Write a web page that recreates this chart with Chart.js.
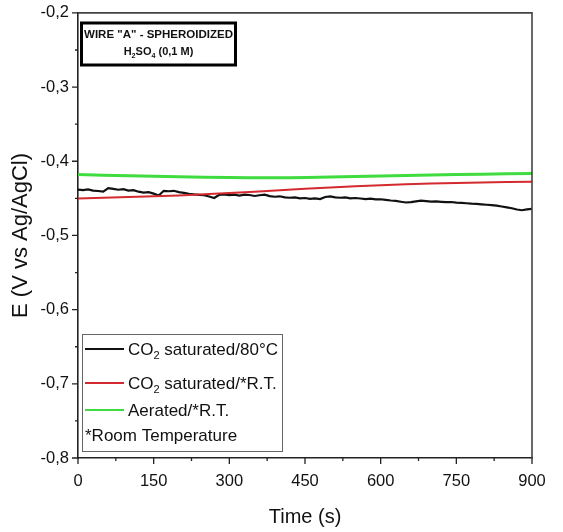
<!DOCTYPE html>
<html>
<head>
<meta charset="utf-8">
<script src="https://cdn.jsdelivr.net/npm/chart.js@4.4.0/dist/chart.umd.min.js"></script>
<style>
  html, body { margin: 0; padding: 0; background: #fff; }
  #wrap { width: 563px; height: 532px; }
</style>
</head>
<body>
<div id="wrap"><canvas id="chart" width="563" height="532"></canvas></div>
<script>
// black trace: CO2 saturated / 80 C
const timeBlack = [0,10,20,30,40,50,60,70,80,90,100,110,120,130,140,150,160,170,180,190,200,210,220,230,240,250,260,270,280,290,300,310,320,330,340,350,360,370,380,390,400,410,420,430,440,450,460,470,480,490,500,510,520,530,540,550,560,570,580,590,600,610,620,630,640,650,660,670,680,690,700,710,720,730,740,750,760,770,780,790,800,810,820,830,840,850,860,870,880,890,900];
const eBlack = [-0.4381,-0.4390,-0.4379,-0.4395,-0.4401,-0.4410,-0.4362,-0.4372,-0.4384,-0.4377,-0.4396,-0.4390,-0.4410,-0.4422,-0.4416,-0.4436,-0.4462,-0.4398,-0.4404,-0.4398,-0.4415,-0.4426,-0.4438,-0.4446,-0.4452,-0.4458,-0.4475,-0.4495,-0.4452,-0.4446,-0.4457,-0.4450,-0.4462,-0.4449,-0.4455,-0.4468,-0.4458,-0.4450,-0.4470,-0.4478,-0.4472,-0.4486,-0.4492,-0.4487,-0.4500,-0.4495,-0.4506,-0.4500,-0.4510,-0.4482,-0.4473,-0.4486,-0.4492,-0.4488,-0.4499,-0.4495,-0.4502,-0.4510,-0.4504,-0.4514,-0.4512,-0.4521,-0.4529,-0.4535,-0.4546,-0.4556,-0.4550,-0.4540,-0.4531,-0.4538,-0.4545,-0.4541,-0.4547,-0.4552,-0.4549,-0.4558,-0.4561,-0.4566,-0.4572,-0.4574,-0.4580,-0.4586,-0.4592,-0.4598,-0.4610,-0.4622,-0.4633,-0.4650,-0.4660,-0.4648,-0.4642];

// red trace: CO2 saturated / room temperature
const timeRed = [0,100,200,300,400,500,600,700,800,900];
const eRed = [-0.4502,-0.4482,-0.4460,-0.4428,-0.4390,-0.4352,-0.4322,-0.4300,-0.4285,-0.4276];

// green trace: aerated / room temperature
const timeGreen = [0,100,200,300,400,500,600,700,800,900];
const eGreen = [-0.4179,-0.4195,-0.4210,-0.4220,-0.4222,-0.4213,-0.4200,-0.4186,-0.4174,-0.4166];

const xMajor = [0,150,300,450,600,750,900];
const xMinor = [75,225,375,525,675,825];
const yMajor = [-0.8,-0.7,-0.6,-0.5,-0.4,-0.3,-0.2];
const yMinor = [-0.75,-0.65,-0.55,-0.45,-0.35,-0.25];

const sans = '"Liberation Sans", Arial, sans-serif';

function toPts(xs, ys) { return xs.map((t, i) => ({ x: t, y: ys[i] })); }

// text with a subscript part: [[text, isSub], ...]
function richText(ctx, parts, x, y, size, family, bold, align) {
  const w = parts.reduce((s, p) => {
    ctx.font = (bold ? 'bold ' : '') + (p[1] ? size * 0.65 : size) + 'px ' + family;
    return s + ctx.measureText(p[0]).width;
  }, 0);
  let cx = align === 'center' ? x - w / 2 : x;
  ctx.textAlign = 'left';
  ctx.textBaseline = 'alphabetic';
  parts.forEach(p => {
    ctx.font = (bold ? 'bold ' : '') + (p[1] ? size * 0.65 : size) + 'px ' + family;
    ctx.fillText(p[0], cx, p[1] ? y + size * 0.25 : y);
    cx += ctx.measureText(p[0]).width;
  });
}

const decor = {
  id: 'decor',
  afterDraw(chart) {
    const { ctx, chartArea: a, scales: { x, y } } = chart;
    ctx.save();
    // top and right frame
    ctx.strokeStyle = '#444';
    ctx.lineWidth = 1.6;
    ctx.beginPath();
    ctx.moveTo(a.left, a.top); ctx.lineTo(a.right, a.top); ctx.lineTo(a.right, a.bottom);
    ctx.stroke();
    // tick marks
    ctx.strokeStyle = '#222';
    ctx.lineWidth = 1.3;
    ctx.beginPath();
    xMajor.forEach(v => { const px = x.getPixelForValue(v); ctx.moveTo(px, a.bottom); ctx.lineTo(px, a.bottom + 6); });
    xMinor.forEach(v => { const px = x.getPixelForValue(v); ctx.moveTo(px, a.bottom); ctx.lineTo(px, a.bottom + 3); });
    yMajor.forEach(v => { const py = y.getPixelForValue(v); ctx.moveTo(a.left, py); ctx.lineTo(a.left - 6, py); });
    yMinor.forEach(v => { const py = y.getPixelForValue(v); ctx.moveTo(a.left, py); ctx.lineTo(a.left - 3, py); });
    ctx.stroke();

    // title box
    ctx.lineWidth = 3;
    ctx.strokeStyle = '#000';
    ctx.strokeRect(81.5, 23, 154, 42);
    ctx.fillStyle = '#111';
    richText(ctx, [['WIRE "A" - SPHEROIDIZED', false]], 158.5, 38, 11.5, sans, true, 'center');
    richText(ctx, [['H', false], ['2', true], ['SO', false], ['4', true], [' (0,1 M)', false]], 158.5, 55, 11, sans, true, 'center');

    // legend box
    ctx.lineWidth = 1;
    ctx.strokeStyle = '#666';
    ctx.strokeRect(82.5, 334.5, 200, 117);
    const rows = [
      { c: '#111', y: 349, parts: [['CO', false], ['2', true], [' saturated/80°C', false]] },
      { c: '#d42a2f', y: 383, parts: [['CO', false], ['2', true], [' saturated/*R.T.', false]] },
      { c: '#3fdc3f', y: 410, parts: [['Aerated/*R.T.', false]] }
    ];
    rows.forEach(r => {
      ctx.strokeStyle = r.c;
      ctx.lineWidth = 2;
      ctx.beginPath(); ctx.moveTo(85, r.y); ctx.lineTo(124, r.y); ctx.stroke();
      ctx.fillStyle = '#111';
      richText(ctx, r.parts, 128, r.y + 6, 17, sans, false, 'left');
    });
    richText(ctx, [['*Room Temperature', false]], 85, 441, 17, sans, false, 'left');
    ctx.restore();
  }
};

new Chart(document.getElementById('chart'), {
  type: 'line',
  data: {
    datasets: [
      { label: 'Aerated/*R.T.', data: toPts(timeGreen, eGreen), borderColor: '#3fdc3f', borderWidth: 3, tension: 0.4 },
      { label: 'CO2 saturated/*R.T.', data: toPts(timeRed, eRed), borderColor: '#d42a2f', borderWidth: 2, tension: 0.4 },
      { label: 'CO2 saturated/80°C', data: toPts(timeBlack, eBlack), borderColor: '#111', borderWidth: 2.2, tension: 0 }
    ]
  },
  options: {
    responsive: false,
    animation: false,
    parsing: false,
    elements: { point: { radius: 0 } },
    layout: { padding: { left: 0, right: 31, top: 12, bottom: 0 } },
    plugins: { legend: { display: false }, tooltip: { enabled: false } },
    scales: {
      x: {
        type: 'linear', min: 0, max: 900,
        afterFit: s => { s.height = 74; },
        border: { display: true, color: '#222', width: 1.6 },
        grid: { drawOnChartArea: false, drawTicks: true, tickLength: 6, color: 'rgba(0,0,0,0)' },
        ticks: { stepSize: 150, padding: 8, color: '#111', font: { family: sans, size: 16.5 }, maxRotation: 0 },
        title: { display: true, text: 'Time (s)', color: '#111', font: { family: sans, size: 20 }, padding: { top: 0, bottom: 3 } }
      },
      y: {
        type: 'linear', min: -0.8, max: -0.2,
        afterFit: s => { s.width = 78; },
        border: { display: true, color: '#222', width: 1.6 },
        grid: { drawOnChartArea: false, drawTicks: true, tickLength: 6, color: 'rgba(0,0,0,0)' },
        ticks: { stepSize: 0.1, padding: 3, color: '#111', font: { family: sans, size: 16.5 },
          callback: v => v.toFixed(1).replace('.', ',') },
        title: { display: true, text: 'E (V vs Ag/AgCl)', color: '#111', font: { family: sans, size: 22 }, padding: { top: 8, bottom: 0 } }
      }
    }
  },
  plugins: [decor]
});
</script>
</body>
</html>
